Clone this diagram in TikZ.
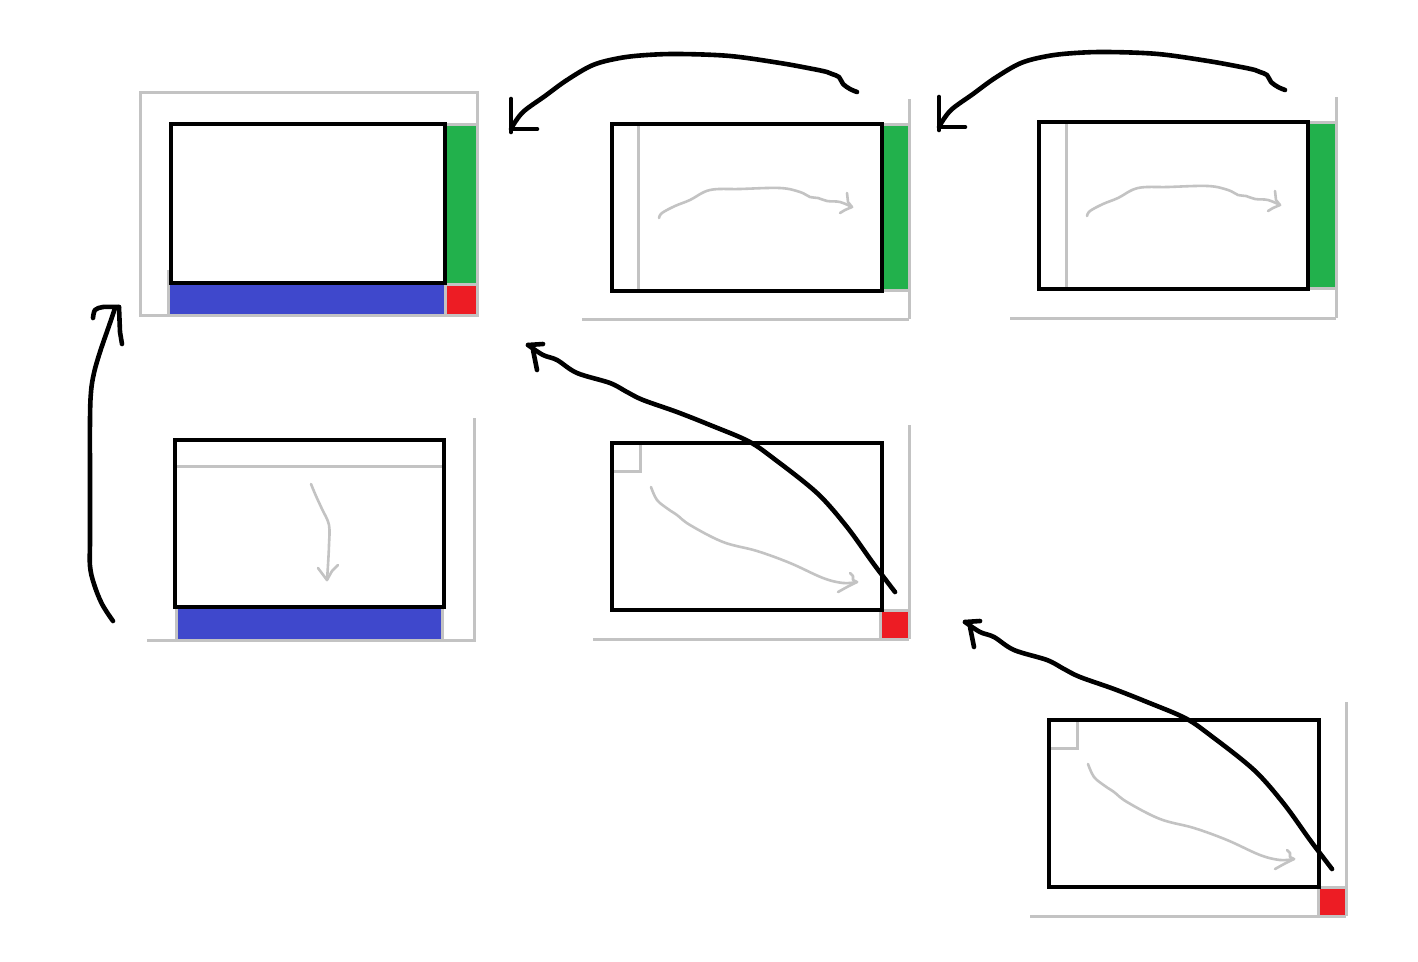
\documentclass[tikz,border=0pt]{standalone}
\definecolor{pgreen}{HTML}{22B14C}
\definecolor{pblue}{HTML}{3F48CC}
\definecolor{pred}{HTML}{ED1C24}
\definecolor{pgrey}{HTML}{C3C3C3}
\begin{document}
\begin{tikzpicture}[x=1pt,y=-1pt,
  frame/.style={draw=black,line width=4.5pt,inner sep=0pt,outer sep=0pt,anchor=north west},
  guide/.style={draw=pgrey,line width=3pt},
  sketch/.style={draw=pgrey,line width=2.6pt,line cap=round,line join=round},
  stroke/.style={draw=black,line width=4.6pt,line cap=round,line join=round}]
\useasboundingbox[fill=white] (0,0) rectangle (1418,961);

% ---------- panel 1 (top left)
\fill[pgreen] (445,124) rectangle (477,284);
\fill[pblue] (169,284) rectangle (445,315);
\fill[pred] (445,284) rectangle (477,315);
\draw[guide] (140,92) rectangle (477,315);
\draw[guide] (445,124) -- (477,124);
\draw[guide] (445,284) -- (477,284);
\draw[guide] (445,284) -- (445,315);
\draw[guide] (168,270) -- (168,315);
\node[frame,minimum width=274pt,minimum height=159pt] (p1) at (171,124) {};

% ---------- panel 2 (top middle)
\fill[pgreen] (882,124) rectangle (908,290);
\draw[guide] (638,124) -- (638,290);
\draw[guide] (882,124) -- (908,124);
\draw[guide] (882,290) -- (908,290);
\draw[guide] (909,99) -- (909,319);
\draw[guide] (582,319) -- (909,319);
\node[frame,minimum width=270pt,minimum height=167pt] (p2) at (612,124) {};
\draw[sketch] plot[smooth,tension=0.6] coordinates {(659,218) (662,213) (675,206) (690,200) (710,190) (740,189) (780,188) (800,192) (810,197) (818,198) (827,201) (840,202) (852,207)};
\draw[sketch] (847,193) -- (848,202) -- (852,207) -- (845,210) -- (840,213);

% ---------- panel 3 (top right)
\fill[pgreen] (1308,122) rectangle (1335,288);
\draw[guide] (1066,122) -- (1066,287);
\draw[guide] (1308,122) -- (1335,122);
\draw[guide] (1308,288) -- (1335,288);
\draw[guide] (1336,97) -- (1336,318);
\draw[guide] (1010,318) -- (1336,318);
\node[frame,minimum width=269pt,minimum height=167pt] (p3) at (1039,122) {};
\begin{scope}[shift={(428,-2)}]
\draw[sketch] plot[smooth,tension=0.6] coordinates {(659,218) (662,213) (675,206) (690,200) (710,190) (740,189) (780,188) (800,192) (810,197) (818,198) (827,201) (840,202) (852,207)};
\draw[sketch] (847,193) -- (848,202) -- (852,207) -- (845,210) -- (840,213);
\end{scope}

% ---------- panel 4 (middle left)
\fill[pblue] (176,607) rectangle (442,639);
\draw[guide] (177,466) -- (442,466);
\draw[guide] (176,605) -- (176,640);
\draw[guide] (442,605) -- (442,640);
\draw[guide] (474,418) -- (474,642);
\draw[guide] (147,640) -- (474,640);
\node[frame,minimum width=269pt,minimum height=167pt] (p4) at (175,440) {};
\draw[sketch] plot[smooth,tension=0.6] coordinates {(311,484) (316,496) (322,509) (329,525) (329,545) (328,565) (327,580)};
\draw[sketch] (318,568) -- (327,580) -- (332,571) -- (338,565);

% ---------- panel 5 (middle)
\fill[pred] (880,610) rectangle (908,638);
\draw[guide] (880,610) -- (908,610);
\draw[guide] (880,610) -- (880,638);
\draw[guide] (612,471) -- (640,471) -- (640,443);
\draw[guide] (909,425) -- (909,639);
\draw[guide] (593,639) -- (909,639);
\node[frame,minimum width=270pt,minimum height=167pt] (p5) at (612,443) {};
\draw[sketch] plot[smooth,tension=0.6] coordinates {(651,487) (657,500) (668,509) (677,515) (690,525) (723,542) (757,551) (790,563) (823,578) (843,583) (857,582)};
\draw[sketch] (850,573) -- (853,576) -- (853,580) -- (857,582) -- (847,587) -- (838,592);

% ---------- panel 6 (bottom right)
\fill[pred] (1318,887) rectangle (1345,915);
\draw[guide] (1318,887) -- (1345,887);
\draw[guide] (1318,887) -- (1318,915);
\draw[guide] (1049,748) -- (1077,748) -- (1077,720);
\draw[guide] (1346,702) -- (1346,916);
\draw[guide] (1030,916) -- (1346,916);
\node[frame,minimum width=270pt,minimum height=167pt] (p6) at (1049,720) {};
\begin{scope}[shift={(437,277)}]
\draw[sketch] plot[smooth,tension=0.6] coordinates {(651,487) (657,500) (668,509) (677,515) (690,525) (723,542) (757,551) (790,563) (823,578) (843,583) (857,582)};
\draw[sketch] (850,573) -- (853,576) -- (853,580) -- (857,582) -- (847,587) -- (838,592);
\end{scope}

% ---------- hand-drawn connectors
\coordinate (aS) at (857,92);  \coordinate (aE) at (512,127);
\coordinate (cS) at (895,592); \coordinate (cE) at (528,345);
\coordinate (eS) at (113,621); \coordinate (eE) at (115,308);

% arrow panel2 -> panel1
\draw[stroke] plot[smooth,tension=0.55] coordinates {(aS) (850,89) (843,84) (839,77) (832,74) (827,72) (813,69) (780,63) (730,56) (680,54) (647,55) (620,58) (593,65) (567,80) (545,96) (523,112) (aE)};
\draw[stroke] (511,99) -- (511,132);
\draw[stroke] (511,129) -- (537,129);

% arrow panel3 -> panel2
\begin{scope}[shift={(428,-2)}]
\draw[stroke] plot[smooth,tension=0.55] coordinates {(857,92) (850,89) (843,84) (839,77) (832,74) (827,72) (813,69) (780,63) (730,56) (680,54) (647,55) (620,58) (593,65) (567,80) (545,96) (523,112) (512,127)};
\draw[stroke] (511,99) -- (511,132);
\draw[stroke] (511,129) -- (537,129);
\end{scope}

% arrow panel5 -> panel1
\draw[stroke] plot[smooth,tension=0.55] coordinates {(cS) (873,563) (847,527) (817,493) (773,458) (748,441) (710,425) (677,412) (643,400) (627,392) (610,383) (577,373) (557,360) (543,355) (cE)};
\draw[stroke] (528,345) -- (543,344);
\draw[stroke] (533,350) -- (537,370);

% arrow panel6 -> panel5
\begin{scope}[shift={(437,277)}]
\draw[stroke] plot[smooth,tension=0.55] coordinates {(895,592) (873,563) (847,527) (817,493) (773,458) (748,441) (710,425) (677,412) (643,400) (627,392) (610,383) (577,373) (557,360) (543,355) (528,345)};
\draw[stroke] (528,345) -- (543,344);
\draw[stroke] (533,350) -- (537,370);
\end{scope}

% arrow panel4 -> panel1
\draw[stroke] plot[smooth,tension=0.6] coordinates {(eS) (102,604) (94,584) (90,566) (90,540) (90,480) (90,420) (91,392) (94,373) (100,352) (110,323) (eE)};
\draw[stroke] plot[smooth,tension=0.5] coordinates {(93,318) (95,310) (103,307) (119,307)};
\draw[stroke] (119,307) -- (120,332) -- (122,344);
\end{tikzpicture}
\end{document}
